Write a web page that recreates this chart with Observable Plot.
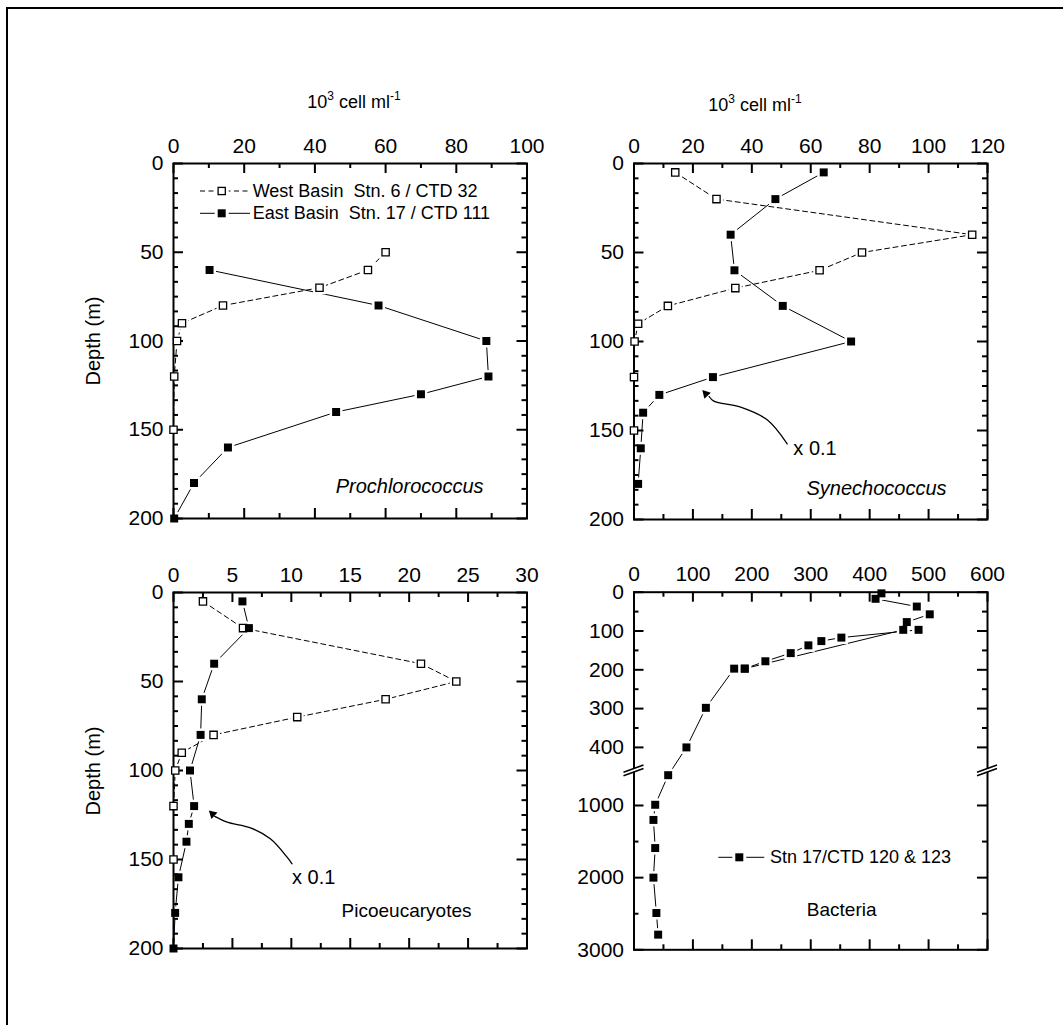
<!DOCTYPE html>
<html><head><meta charset="utf-8">
<script src="https://cdn.jsdelivr.net/npm/d3@7"></script>
<script src="https://cdn.jsdelivr.net/npm/@observablehq/plot@0.6"></script>
<style>
body{margin:0;background:#fff;}
#wrap{position:relative;width:1063px;height:1025px;overflow:hidden;background:#fff;font-family:"Liberation Sans",Arial,Helvetica,sans-serif;}
#border{position:absolute;left:6px;top:7px;width:1120px;height:1120px;border:2px solid #000;box-sizing:border-box;}
.panel{position:absolute;}
.panel svg{max-width:none !important;display:block;}
#overlay{position:absolute;left:0;top:0;}
</style></head><body>
<div id="wrap"><div id="border"></div></div>
<script>
// ---------------- DATA ----------------
// Prochlorococcus (10^3 cell/ml)
const proWestDepth = [50, 60, 70, 80, 90, 100, 120, 150];
const proWest      = [60, 55, 41.3, 14, 2.4, 1, 0.2, 0];
const proEastDepth = [60, 80, 100, 120, 130, 140, 160, 180, 200];
const proEast      = [10.2, 58, 88.5, 89.1, 70, 46, 15.4, 5.8, 0.2];
// Synechococcus
const synWestDepth = [5, 20, 40, 50, 60, 70, 80, 90, 100, 120, 150];
const synWest      = [14, 28, 114.8, 77.4, 63, 34.4, 11.5, 1.4, 0.2, 0, 0];
const synEastDepth = [5, 20, 40, 60, 80, 100, 120, 130, 140, 160, 180];
const synEast      = [64.4, 48, 32.8, 34.1, 50.5, 73.7, 26.8, 8.6, 3.1, 2.3, 1.4];
// Picoeucaryotes
const picoWestDepth = [5, 20, 40, 50, 60, 70, 80, 90, 100, 120, 150];
const picoWest      = [2.5, 5.9, 21, 24, 18, 10.5, 3.4, 0.7, 0.15, 0, 0];
const picoEastDepth = [5, 20, 40, 60, 80, 100, 120, 130, 140, 160, 180, 200];
const picoEast      = [5.85, 6.4, 3.45, 2.4, 2.3, 1.4, 1.75, 1.3, 1.1, 0.42, 0.14, 0];
// Bacteria, Stn 17 / CTD 120 & 123
const bactADepth = [3, 17, 37, 57, 77, 97, 197, 197, 298, 400, 580, 990, 1200, 1590, 2000, 2490, 2790];
const bactA      = [420, 410, 480, 502, 463, 457, 188, 170, 122, 89, 58, 36, 33, 36, 33, 38, 41];
const bactBDepth = [97, 117, 126, 137, 157, 178, 197];
const bactB      = [483, 352, 318, 296, 266, 223, 188];

// Tick labels
const proXTicks  = [0, 20, 40, 60, 80, 100];
const synXTicks  = [0, 20, 40, 60, 80, 100, 120];
const picoXTicks = [0, 5, 10, 15, 20, 25, 30];
const bactXTicks = [0, 100, 200, 300, 400, 500, 600];
const depthTicks = [0, 50, 100, 150, 200];
const bactYTicks = [0, 100, 200, 300, 400, 1000, 2000, 3000];
const bactYMinor = [50, 150, 250, 350, 1500, 2500];

// Annotations ("x 0.1" arrows), in data units
const synArrow  = [{x:25.5,y:130.9},{x:27.1,y:133.5},{x:36.2,y:136.9},{x:45.2,y:144},{x:52,y:157.5}];
const synTip    = {x:23.2, y:127.3};
const synNote   = {x:54.1, y:160.1, text:"x 0.1"};
const picoArrow = [{x:3.5,y:125.8},{x:4.55,y:129},{x:6.53,y:132.2},{x:8.22,y:138.4},{x:9.64,y:148.7},{x:10.06,y:152.4}];
const picoTip   = {x:3.0, y:122.4};
const picoNote  = {x:10.06, y:160, text:"x 0.1"};

// Broken depth axis for bacteria: 0–460 m on the upper part, 522–3000 m compressed below
const BRK_U = 460, BRK_L = 522, BRK_GAP = 0.8, BRK_K = 0.18595;
const brk = d => d <= BRK_U ? d : BRK_U + BRK_GAP + (d - BRK_L) * BRK_K;

// ---------------- HELPERS ----------------
const FONT = '"Liberation Sans", Arial, Helvetica, sans-serif';
const TICKFS = 21;
const zip = (xs, ds, f = d => d) => xs.map((x, i) => ({x, y: f(ds[i])}));
function minorTicks(lo, hi, step, major) {
  const out = []; const n = Math.round((hi - lo) / step);
  for (let i = 0; i <= n; i++) {
    const v = lo + i * step; const r = v / major;
    if (Math.abs(r - Math.round(r)) > 1e-6) out.push(v);
  }
  return out;
}
const wrap = document.getElementById("wrap");

function makePanel(c) {
  const W = c.width - c.ml - c.mr, H = c.height - c.mt - c.mb;
  const ym = c.yMap || (d => d);
  const MAJ = 10, MIN = 5, TW = 2;
  const marks = [];
  for (const s of c.series) for (const p of s.paths)
    marks.push(Plot.line(p, {x:"x", y:"y", stroke:"black", strokeWidth:1, strokeDasharray:s.dash}));
  for (const a of (c.arrows || []))
    marks.push(Plot.line(a.path, {x:"x", y:"y", curve:"catmull-rom", stroke:"black", strokeWidth:1.3}));
  for (const s of c.series)
    marks.push(Plot.dot(s.points, {x:"x", y:"y", symbol:"square", r:7.3, fill:"white", stroke:"none"}));
  marks.push(Plot.frame({stroke:"black", strokeWidth:2}));
  const tx = (vals, len) => [
    Plot.ruleX(vals, {x:d=>d, insetBottom:H-len, stroke:"black", strokeWidth:TW}),
    Plot.ruleX(vals, {x:d=>d, insetTop:H-len, stroke:"black", strokeWidth:TW})];
  const ty = (vals, len) => [
    Plot.ruleY(vals, {y:d=>ym(d), insetRight:W-len, stroke:"black", strokeWidth:TW}),
    Plot.ruleY(vals, {y:d=>ym(d), insetLeft:W-len, stroke:"black", strokeWidth:TW})];
  marks.push(...tx(c.xMajor, MAJ), ...tx(c.xMinor, MIN), ...ty(c.yMajor, MAJ), ...ty(c.yMinor, MIN));
  for (const s of c.series)
    marks.push(Plot.dot(s.points, s.open
      ? {x:"x", y:"y", symbol:"square", r:4.1, fill:"white", stroke:"black", strokeWidth:1.3}
      : {x:"x", y:"y", symbol:"square", r:4.5, fill:"black", stroke:"none"}));
  for (const a of (c.arrows || [])) {
    marks.push(Plot.dot([a.tip], {x:"x", y:"y", symbol:"triangle", r:3.3, rotate:a.rot, dx:a.dx, dy:a.dy, fill:"black", stroke:"none"}));
    marks.push(Plot.text([a.note], {x:"x", y:"y", text:"text", textAnchor:"start", fontSize:20, fill:"black"}));
  }
  marks.push(Plot.text(c.xMajor, {x:d=>d, text:d=>String(d), frameAnchor:"top", lineAnchor:"bottom", dy:-11, fontSize:TICKFS, fill:"black"}));
  marks.push(Plot.text(c.yLabels, {y:d=>ym(d), text:d=>String(d), frameAnchor:"left", textAnchor:"end", dx:-10, fontSize:TICKFS, fill:"black"}));
  marks.push(Plot.text([c.name], {text:d=>d, frameAnchor:"bottom-right", textAnchor:"end", lineAnchor:"bottom",
    dx:c.nameDx, dy:c.nameDy, fontSize:c.nameSize, fontStyle:c.italic ? "italic" : "normal", fill:"black"}));

  const yOpt = c.yRange ? {domain:c.yDomain, range:c.yRange, axis:null} : {domain:c.yDomain, reverse:true, axis:null};
  const svg = Plot.plot({
    width:c.width, height:c.height, marginLeft:c.ml, marginRight:c.mr, marginTop:c.mt, marginBottom:c.mb,
    x:{domain:c.xDomain, axis:null}, y:yOpt,
    style:{fontFamily:FONT, background:"transparent", overflow:"visible", color:"black"},
    marks
  });
  const div = document.createElement("div");
  div.className = "panel";
  div.style.left = c.left + "px"; div.style.top = c.top + "px";
  div.style.width = c.width + "px"; div.style.height = c.height + "px";
  div.appendChild(svg); wrap.appendChild(div);
  return svg;
}

// ---------------- PANELS ----------------
const yMinor200 = minorTicks(0, 200, 50/6, 50);

const p1 = makePanel({
  left:40, top:110, width:520, height:430, ml:133, mt:53, mr:33.5, mb:22,
  xDomain:[0,100], yDomain:[0,200],
  xMajor:proXTicks, xMinor:minorTicks(0,100,10,20), yMajor:depthTicks, yMinor:yMinor200, yLabels:depthTicks,
  series:[
    {paths:[zip(proWest, proWestDepth)], points:zip(proWest, proWestDepth), open:true, dash:"5,3.5"},
    {paths:[zip(proEast, proEastDepth)], points:zip(proEast, proEastDepth), open:false}
  ],
  name:"Prochlorococcus", italic:true, nameSize:20, nameDx:-43.5, nameDy:-25.3
});

makePanel({
  left:560, top:110, width:480, height:430, ml:73.5, mt:53, mr:53, mb:21,
  xDomain:[0,120], yDomain:[0,200],
  xMajor:synXTicks, xMinor:minorTicks(0,120,10,20), yMajor:depthTicks, yMinor:yMinor200, yLabels:depthTicks,
  series:[
    {paths:[zip(synWest, synWestDepth)], points:zip(synWest, synWestDepth), open:true, dash:"5,3.5"},
    {paths:[zip(synEast, synEastDepth)], points:zip(synEast, synEastDepth), open:false}
  ],
  arrows:[{path:synArrow, tip:synTip, rot:-43, dx:3.5, dy:3.75, note:synNote}],
  name:"Synechococcus", italic:true, nameSize:20, nameDx:-41, nameDy:-25
});

makePanel({
  left:40, top:545, width:520, height:430, ml:133, mt:47, mr:33.5, mb:27,
  xDomain:[0,30], yDomain:[0,200],
  xMajor:picoXTicks, xMinor:minorTicks(0,30,2.5,5), yMajor:depthTicks, yMinor:yMinor200, yLabels:depthTicks,
  series:[
    {paths:[zip(picoWest, picoWestDepth)], points:zip(picoWest, picoWestDepth), open:true, dash:"5,3.5"},
    {paths:[zip(picoEast, picoEastDepth)], points:zip(picoEast, picoEastDepth), open:false}
  ],
  arrows:[{path:picoArrow, tip:picoTip, rot:-47, dx:3.74, dy:3.51, note:picoNote}],
  name:"Picoeucaryotes", italic:false, nameSize:19, nameDx:-55.5, nameDy:-32
});

const p4Top = 46.7, p4Bottom = 404.3;
const p4 = makePanel({
  left:560, top:545, width:480, height:430, ml:73.5, mt:p4Top, mr:53, mb:430 - p4Bottom,
  xDomain:[0,600], yDomain:[0, brk(3000)], yRange:[p4Top, p4Bottom], yMap:brk,
  xMajor:bactXTicks, xMinor:minorTicks(0,600,50,100), yMajor:bactYTicks, yMinor:bactYMinor, yLabels:bactYTicks,
  series:[
    {paths:[zip(bactA, bactADepth, brk), zip(bactB, bactBDepth, brk)],
     points:zip(bactA, bactADepth, brk).concat(zip(bactB, bactBDepth, brk)), open:false}
  ],
  name:"Bacteria", italic:false, nameSize:19, nameDx:-111, nameDy:-33.6
});

// axis break marks on bacteria panel (position derived from the y scale)
{
  const s = d3.select(p4);
  const ys = p4.scale("y");
  const by = (ys.apply(brk(BRK_U)) + ys.apply(brk(BRK_L))) / 2;
  const g = s.append("g");
  for (const ax of [73.5, 480 - 53]) {
    g.append("rect").attr("x", ax - 3).attr("y", by - 1.6).attr("width", 6).attr("height", 3.2).attr("fill", "white");
    for (const off of [-1.8, 1.8]) {
      g.append("line").attr("x1", ax - 10).attr("y1", by + off + 3.6).attr("x2", ax + 10).attr("y2", by + off - 3.6)
        .attr("stroke", "black").attr("stroke-width", 1.6);
    }
  }
  // legend
  const lx = 718.3 - 560, ly = 857.3 - 545;
  const lg = s.append("g");
  lg.append("line").attr("x1", lx).attr("x2", lx + 46).attr("y1", ly).attr("y2", ly).attr("stroke", "black").attr("stroke-width", 1);
  lg.append("rect").attr("x", lx + 21 - 7).attr("y", ly - 7).attr("width", 14).attr("height", 14).attr("fill", "white");
  lg.append("rect").attr("x", lx + 21 - 4).attr("y", ly - 4).attr("width", 8).attr("height", 8).attr("fill", "black");
  lg.append("text").attr("x", 770 - 560).attr("y", ly + 6).attr("font-size", 18).attr("font-family", FONT)
    .attr("text-anchor", "start").attr("fill", "black").text("Stn 17/CTD 120 & 123");
}
// legend on Prochlorococcus panel
{
  const s = d3.select(p1);
  const rows = [
    {y:191 - 110, open:true, label:"West Basin  Stn. 6 / CTD 32"},
    {y:213.3 - 110, open:false, label:"East Basin  Stn. 17 / CTD 111"}
  ];
  const x0 = 200 - 40, mx = 221.7 - 40;
  for (const r of rows) {
    const g = s.append("g");
    g.append("line").attr("x1", x0).attr("x2", x0 + 50).attr("y1", r.y).attr("y2", r.y)
      .attr("stroke", "black").attr("stroke-width", 1).attr("stroke-dasharray", r.open ? "5,3.5" : null);
    g.append("rect").attr("x", mx - 7).attr("y", r.y - 7).attr("width", 14).attr("height", 14).attr("fill", "white");
    if (r.open) g.append("rect").attr("x", mx - 3.6).attr("y", r.y - 3.6).attr("width", 7.2).attr("height", 7.2)
      .attr("fill", "white").attr("stroke", "black").attr("stroke-width", 1.3);
    else g.append("rect").attr("x", mx - 4).attr("y", r.y - 4).attr("width", 8).attr("height", 8).attr("fill", "black");
    g.append("text").attr("x", 252.7 - 40).attr("y", r.y + 6).attr("font-size", 18).attr("font-family", FONT)
      .attr("text-anchor", "start").attr("fill", "black").style("white-space", "pre").text(r.label);
  }
}

// ---------------- OVERLAY TEXT (titles, axis labels) ----------------
{
  const o = d3.select(wrap).append("svg").attr("id", "overlay").attr("width", 1063).attr("height", 1025)
    .attr("font-family", FONT).style("pointer-events", "none");
  const unit = (x, y) => {
    const t = o.append("text").attr("x", x).attr("y", y).attr("text-anchor", "middle").attr("font-size", 18).attr("fill", "black");
    t.append("tspan").text("10");
    t.append("tspan").attr("dy", -8).attr("font-size", 12).text("3");
    t.append("tspan").attr("dy", 8).text(" cell ml");
    t.append("tspan").attr("dy", -8).attr("font-size", 12).text("-1");
  };
  unit(354, 108);
  unit(755, 111);
  for (const cy of [341, 771]) {
    o.append("text").attr("transform", `translate(100,${cy}) rotate(-90)`).attr("text-anchor", "middle")
      .attr("font-size", 20).attr("fill", "black").text("Depth (m)");
  }
}
</script>
</body></html>
